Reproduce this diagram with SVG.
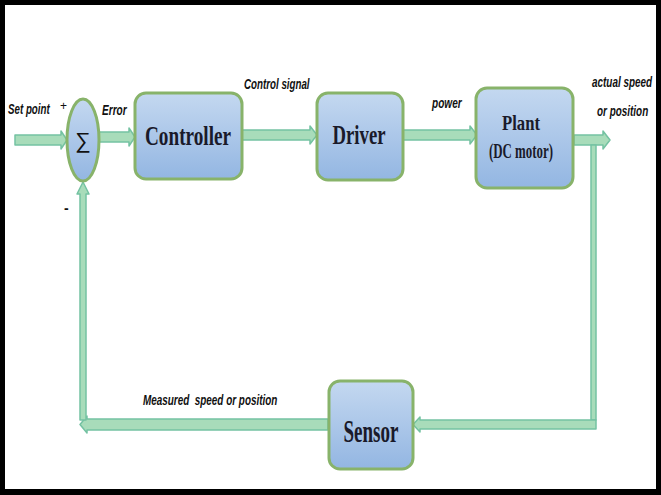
<svg xmlns="http://www.w3.org/2000/svg" width="661" height="495" viewBox="0 0 661 495">
<defs>
<linearGradient id="boxg" x1="0" y1="0" x2="0" y2="1">
<stop offset="0" stop-color="#c4d8f0"/>
<stop offset="1" stop-color="#93b6e2"/>
</linearGradient>
<style>
.box{fill:url(#boxg);stroke:#88b36a;stroke-width:3}
.arr{fill:#a8dcba;stroke:#74c2a2;stroke-width:1.5;stroke-linejoin:round}
.lbl{font-family:"Liberation Serif","Times New Roman",serif;font-weight:bold;fill:#1a1a2a;text-anchor:middle}
.sig{font-family:"Liberation Sans",Arial,sans-serif;font-style:italic;font-weight:bold;fill:#111;font-size:15.5px}
.sym{font-family:"Liberation Sans",Arial,sans-serif;fill:#111}
</style>
</defs>
<rect x="0" y="0" width="661" height="495" fill="#000"/>
<rect x="5" y="5" width="651" height="484" fill="#fff"/>
<g id="connectors">
<polygon class="arr" points="15,135 61,135 61,131 67,140 61,149 61,145 15,145"/>
<polygon class="arr" points="99,132 129,132 129,128 135,137 129,146 129,142 99,142"/>
<polygon class="arr" points="242,130 310,130 310,126 317,135 310,144 310,140 242,140"/>
<polygon class="arr" points="403,130 470,130 470,126 477,135 470,144 470,140 403,140"/>
<polygon class="arr" points="574,135 603,135 603,131 610,140 603,149 603,145 574,145"/>
<polygon class="arr" points="591,145 596,145 596,420 591,420"/>
<polygon class="arr" points="596,420 596,429 420,429 420,432 413,424.5 420,417 420,420"/>
<polygon class="arr" points="328,419 328,430 87,430 87,433 80,424.5 87,416 87,419"/>
<polygon class="arr" points="80,420 80,194 77,194 83,182 89,194 86,194 86,420"/>
</g>
<g id="sum">
<ellipse class="box" cx="83" cy="140" rx="16" ry="41"/>
<text class="sym" x="83" y="148" font-size="22" text-anchor="middle">∑</text>
</g>
<g id="controller">
<rect class="box" x="135" y="93" width="107" height="86" rx="11"/>
<text class="lbl" x="188" y="145" font-size="28" textLength="86" lengthAdjust="spacingAndGlyphs">Controller</text>
</g>
<g id="driver">
<rect class="box" x="317" y="93" width="86" height="87" rx="11"/>
<text class="lbl" x="359" y="144" font-size="28" textLength="53" lengthAdjust="spacingAndGlyphs">Driver</text>
</g>
<g id="plant">
<rect class="box" x="476" y="88" width="97" height="100" rx="11"/>
<text class="lbl" x="521" y="130" font-size="21" textLength="38" lengthAdjust="spacingAndGlyphs">Plant</text>
<text class="lbl" x="521" y="158" font-size="21" textLength="64" lengthAdjust="spacingAndGlyphs">(DC motor)</text>
</g>
<g id="sensor">
<rect class="box" x="329" y="381" width="84" height="88" rx="11"/>
<text class="lbl" x="371" y="442" font-size="31" textLength="55" lengthAdjust="spacingAndGlyphs">Sensor</text>
</g>
<g id="labels">
<text class="sig" transform="translate(8,114) scale(0.63,1)">Set point</text>
<text class="sym" x="60" y="110" font-size="12">+</text>
<text class="sym" x="64" y="213" font-size="14" font-weight="bold">-</text>
<text class="sig" transform="translate(102,115) scale(0.65,1)">Error</text>
<text class="sig" transform="translate(244,89) scale(0.63,1)">Control signal</text>
<text class="sig" transform="translate(432,108) scale(0.65,1)">power</text>
<text class="sig" transform="translate(592,87) scale(0.64,1)">actual speed</text>
<text class="sig" transform="translate(597,116) scale(0.64,1)">or position</text>
<text class="sig" xml:space="preserve" transform="translate(143,405) scale(0.64,1)">Measured  speed or position</text>
</g>
</svg>
